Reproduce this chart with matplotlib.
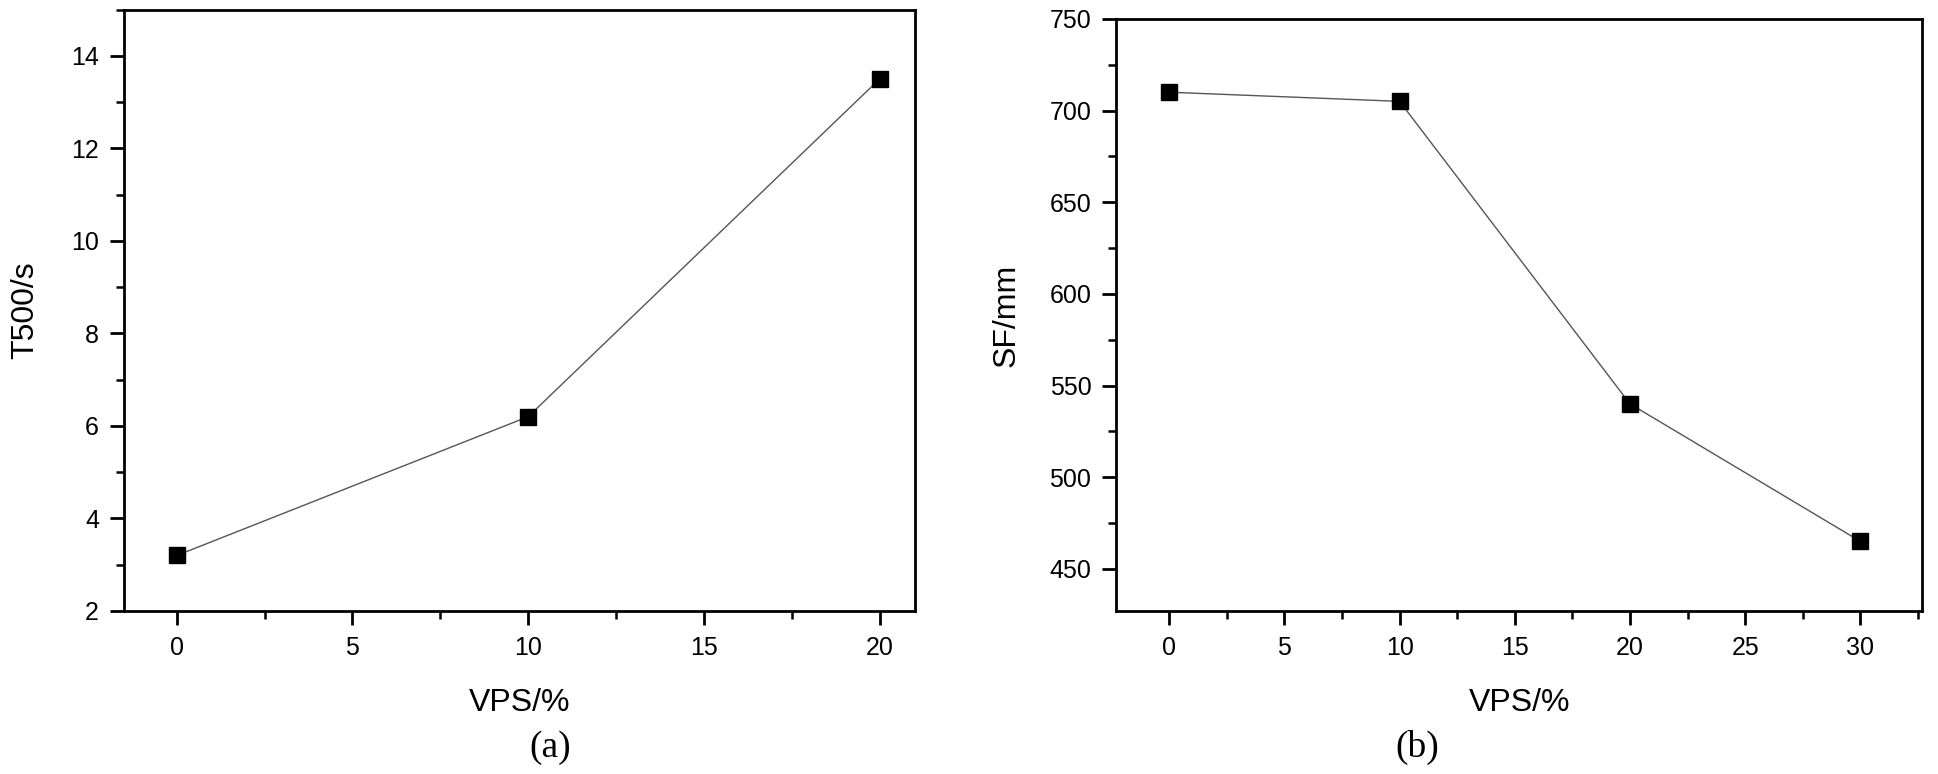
import numpy as np
import matplotlib.pyplot as plt
from matplotlib.ticker import MultipleLocator

# panel (a)
vps_a = [0, 10, 20]
t500 = [3.2, 6.2, 13.5]
# panel (b)
vps_b = [0, 10, 20, 30]
sf = [710, 705, 540, 465]

plt.rcParams['font.family'] = ['Liberation Sans', 'DejaVu Sans']

fig = plt.figure(figsize=(19.38, 7.74), dpi=100)
ax1 = fig.add_axes([0.064, 0.2106, 0.408, 0.777])
ax2 = fig.add_axes([0.576, 0.2106, 0.416, 0.765])


def style(ax, xmaj, xmin, ymaj, ymin):
    for s in ax.spines.values():
        s.set_linewidth(2)
    ax.xaxis.set_major_locator(MultipleLocator(xmaj))
    ax.xaxis.set_minor_locator(MultipleLocator(xmin))
    ax.yaxis.set_major_locator(MultipleLocator(ymaj))
    ax.yaxis.set_minor_locator(MultipleLocator(ymin))
    ax.tick_params(which='major', direction='out', length=10, width=2, labelsize=18, pad=8)
    ax.tick_params(which='minor', direction='out', length=6, width=1.8)
    ax.tick_params(which='both', top=False, right=False)


ax1.plot(vps_a, t500, color='#555555', lw=1.0, marker='s', ms=11,
         mfc='black', mec='black')
ax1.set_xlim(-1.5, 21)
ax1.set_ylim(2, 15)
style(ax1, 5, 2.5, 2, 1)
ax1.set_xlabel('VPS/%', fontsize=23, labelpad=20)
ax1.set_ylabel('T500/s', fontsize=23, labelpad=22)

ax2.plot(vps_b, sf, color='#555555', lw=1.0, marker='s', ms=11,
         mfc='black', mec='black')
ax2.set_xlim(-2.3, 32.7)
ax2.set_ylim(427, 750)
style(ax2, 5, 2.5, 50, 25)
ax2.set_xlabel('VPS/%', fontsize=23, labelpad=20)
ax2.set_ylabel('SF/mm', fontsize=23, labelpad=20)

fig.text(0.284, 0.022, '(a)', fontsize=27, family='Liberation Serif', ha='center')
fig.text(0.7315, 0.022, '(b)', fontsize=27, family='Liberation Serif', ha='center')

fig.savefig('out.png', dpi=100)
